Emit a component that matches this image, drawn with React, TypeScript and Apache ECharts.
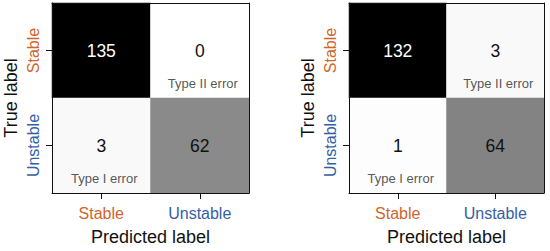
import React, { useEffect, useRef } from "react";
import * as echarts from "echarts";

const predictedCats = ["Stable", "Unstable"];
const trueCats = ["Stable", "Unstable"];
// [predictedIndex, trueIndex, count]
const matrixA = [
  [0, 0, 135],
  [1, 0, 0],
  [0, 1, 3],
  [1, 1, 62],
];
const matrixB = [
  [0, 0, 132],
  [1, 0, 3],
  [0, 1, 1],
  [1, 1, 64],
];
const annotations = [
  { x: 1, y: 0, text: "Type II error" },
  { x: 0, y: 1, text: "Type I error" },
];
const catColors: Record<string, string> = { Stable: "#d0652c", Unstable: "#3560a6" };

const FONT = "Liberation Sans, Arial, sans-serif";

export default function App() {
  const ref = useRef<HTMLDivElement>(null);
  useEffect(() => {
    const chart = echarts.init(ref.current!, undefined, { renderer: "svg" });
    const grids = [
      { left: 52, top: 3, width: 197, height: 195 },
      { left: 349, top: 3, width: 195, height: 195 },
    ];
    const mats = [matrixA, matrixB];
    const xAxes: any[] = [];
    const yAxes: any[] = [];
    const series: any[] = [];
    const visualMaps: any[] = [];
    grids.forEach((g, i) => {
      xAxes.push({
        type: "category",
        gridIndex: i,
        data: predictedCats,
        z: 10,
        name: "Predicted label",
        nameLocation: "middle",
        nameGap: 35,
        nameTextStyle: { fontSize: 18, color: "#111", fontFamily: FONT },
        axisLine: { show: true, lineStyle: { color: "#111", width: 1 } },
        axisTick: { show: true, alignWithLabel: true, length: 6, lineStyle: { color: "#111" } },
        axisLabel: {
          margin: 12,
          fontSize: 16,
          fontFamily: FONT,
          color: (v: string) => catColors[v],
        },
        splitLine: { show: false },
      });
      xAxes.push({
        type: "category",
        gridIndex: i,
        position: "top",
        data: predictedCats,
        z: 10,
        axisLine: { show: true, lineStyle: { color: "#111", width: 1 } },
        axisTick: { show: false },
        axisLabel: { show: false },
      });
      yAxes.push({
        type: "category",
        gridIndex: i,
        data: trueCats,
        inverse: true,
        z: 10,
        name: "True label",
        nameLocation: "middle",
        nameGap: 32,
        nameTextStyle: { fontSize: 18, color: "#111", fontFamily: FONT },
        axisLine: { show: true, lineStyle: { color: "#111", width: 1 } },
        axisTick: { show: true, alignWithLabel: true, length: 6, lineStyle: { color: "#111" } },
        axisLabel: {
          rotate: 90,
          margin: 11,
          fontSize: 16,
          fontFamily: FONT,
          color: (v: string) => catColors[v],
        },
      });
      yAxes.push({
        type: "category",
        gridIndex: i,
        position: "right",
        data: trueCats,
        inverse: true,
        z: 10,
        axisLine: { show: true, lineStyle: { color: "#111", width: 1 } },
        axisTick: { show: false },
        axisLabel: { show: false },
      });
      const maxV = Math.max(...mats[i].map((d) => d[2]));
      visualMaps.push({
        show: false,
        seriesIndex: i * 2,
        min: 0,
        max: maxV,
        dimension: 2,
        inRange: { color: ["#ffffff", "#000000"] },
      });
      series.push({
        type: "heatmap",
        xAxisIndex: i * 2,
        yAxisIndex: i * 2,
        data: mats[i].map((d) => ({
          value: d,
          label: { color: d[2] / maxV > 0.7 ? "#ffffff" : "#111111" },
        })),
        label: {
          show: true,
          fontSize: 17.5,
          fontFamily: FONT,
          formatter: (p: any) => String(p.value[2]),
          color: "#111",
        },
        itemStyle: { borderWidth: 0 },
      });
      series.push({
        type: "scatter",
        xAxisIndex: i * 2,
        yAxisIndex: i * 2,
        symbolSize: 0,
        silent: true,
        z: 5,
        data: annotations.map((a) => ({ value: [a.x, a.y], name: a.text })),
        label: {
          show: true,
          position: "inside",
          offset: [3, 33],
          formatter: (p: any) => p.name,
          fontSize: 13,
          color: "#2a2a2a",
          fontFamily: FONT,
        },
      });
    });
    chart.setOption({
      animation: false,
      backgroundColor: "#ffffff",
      grid: grids,
      xAxis: xAxes,
      yAxis: yAxes,
      visualMap: visualMaps,
      series,
    });
    return () => chart.dispose();
  }, []);
  return <div ref={ref} style={{ width: 550, height: 251, position: "absolute", left: 0, top: 0 }} />;
}
